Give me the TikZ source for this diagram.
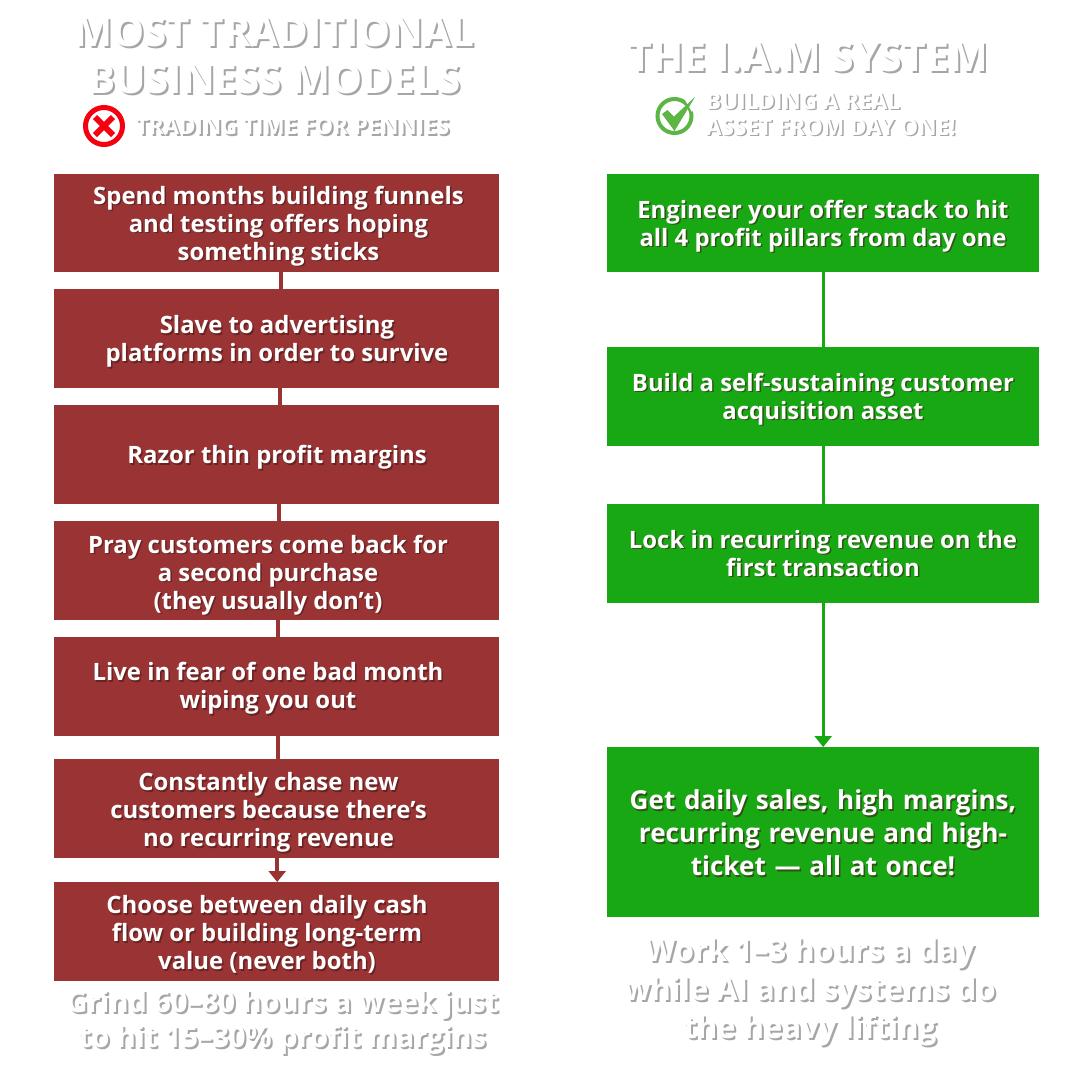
\documentclass[tikz,border=0pt]{standalone}
\usepackage{fontspec}
\setmainfont{Open Sans}[BoldFont=* Bold]
\usetikzlibrary{arrows.meta}
\definecolor{redbox}{HTML}{9A3334}
\definecolor{greenbox}{HTML}{17A814}
\definecolor{xred}{HTML}{F5000F}
\definecolor{chk}{HTML}{5CB545}
\definecolor{shade}{HTML}{A6A6A6}
\tikzset{
 x=1pt,y=-1pt,
 boxr/.style={fill=redbox,inner sep=0pt},
 boxg/.style={fill=greenbox,inner sep=0pt},
 lbl/.style={align=center,text=white,font=\bfseries\fontsize{23.9}{28}\selectfont,inner sep=0pt},
 lblsh/.style={align=center,text=black!55!redbox,font=\bfseries\fontsize{23.9}{28}\selectfont,inner sep=0pt,opacity=.6},
 head/.style={align=center,text=white,inner sep=0pt},
 headsh/.style={align=center,text=shade,inner sep=0pt},
 linkr/.style={draw=redbox,line width=4pt},
 linkg/.style={draw=greenbox,line width=3.4pt},
}
\newcommand{\flowboxat}[9]{% name style l t r b cx cy text
 \node[#2,minimum width=#5pt-#3pt,minimum height=#6pt-#4pt,anchor=north west] (#1) at (#3,#4) {};
 \node[lblsh] (#1sh) at (#7+1.5,#8+3) {#9};
 \node[lbl] (#1t) at (#7,#8+1.5) {#9};
}
\newcommand{\headtext}[5]{% name cx cy font text
 \node[headsh,font=#4] (#1sh) at (#2+2,#3+2) {#5};
 \node[head,font=#4] (#1) at (#2,#3) {#5};
}
\begin{document}
\begin{tikzpicture}
\path[use as bounding box,fill=white] (0,0) rectangle (1080,1080);

\headtext{lh}{274.5}{56}{\bfseries\fontsize{40.4}{47}\selectfont}{MOST TRADITIONAL\\BUSINESS MODELS}
\headtext{ls}{292.5}{126}{\bfseries\fontsize{22.4}{26}\selectfont}{TRADING TIME FOR PENNIES}
\headtext{rh}{808}{57}{\bfseries\fontsize{41}{48}\selectfont}{THE I.A.M SYSTEM}
\node[headsh,font=\bfseries\fontsize{22.5}{26}\selectfont,align=left,anchor=west] (rssh) at (707.5,115.5) {BUILDING A REAL\\ASSET FROM DAY ONE!};
\node[head,font=\bfseries\fontsize{22.5}{26}\selectfont,align=left,anchor=west] (rs) at (706,114) {BUILDING A REAL\\ASSET FROM DAY ONE!};

% red cross icon
\node[circle,draw=xred,line width=5pt,fill=white,minimum size=37pt,inner sep=0pt] (xicon) at (104,126) {};
\draw[xred,line width=6pt] ([xshift=-9pt,yshift=9pt]xicon.center) -- ([xshift=9pt,yshift=-9pt]xicon.center);
\draw[xred,line width=6pt] ([xshift=-9pt,yshift=-9pt]xicon.center) -- ([xshift=9pt,yshift=9pt]xicon.center);
% check icon
\node[circle,draw=chk,line width=4pt,minimum size=34pt,inner sep=0pt] (cicon) at (674.5,116) {};
\fill[white] (685,100) -- (696,93) -- (699,100) -- (692,112) -- cycle;
\fill[chk] (662,114) -- (667.5,110) -- (674,116.5) -- (695,97) -- (674.5,131) -- cycle;

% left column
\flowboxat{a1}{boxr}{54}{174}{499}{272}{278.5}{224.5}{Spend months building funnels\\and testing offers hoping\\something sticks}
\flowboxat{a2}{boxr}{54}{289}{499}{388}{277}{340}{Slave to advertising\\platforms in order to survive}
\flowboxat{a3}{boxr}{54}{405}{499}{504}{277}{456}{Razor thin profit margins}
\flowboxat{a4}{boxr}{54}{521}{499}{620}{268}{573.5}{Pray customers come back for\\a second purchase\\(they usually don’t)}
\flowboxat{a5}{boxr}{54}{637}{499}{736}{268}{687}{Live in fear of one bad month\\wiping you out}
\flowboxat{a6}{boxr}{54}{759}{499}{858}{268.5}{811}{Constantly chase new\\customers because there's\\no recurring revenue}
\flowboxat{a7}{boxr}{54}{882}{499}{981}{267}{933}{Choose between daily cash\\flow or building long-term\\value (never both)}

\draw[linkr] ([xshift=4.5pt]a1.south) -- ([xshift=4.5pt]a2.north);
\draw[linkr] ([xshift=3.5pt]a2.south) -- ([xshift=3.5pt]a3.north);
\draw[linkr] ([xshift=2.5pt]a3.south) -- ([xshift=2.5pt]a4.north);
\draw[linkr] ([xshift=1.5pt]a4.south) -- ([xshift=1.5pt]a5.north);
\draw[linkr] ([xshift=1pt]a5.south) -- ([xshift=1pt]a6.north);
\draw[linkr,-{Triangle[length=11pt,width=17pt]}] ([xshift=.5pt]a6.south) -- ([xshift=.5pt]a7.north);

% right column
\flowboxat{b1}{boxg}{607}{174}{1039}{272}{823}{224.5}{Engineer your offer stack to hit\\all 4 profit pillars from day one}
\flowboxat{b2}{boxg}{607}{347}{1039}{446}{823}{397.5}{Build a self-sustaining customer\\acquisition asset}
\flowboxat{b3}{boxg}{607}{504}{1039}{603}{823}{552}{Lock in recurring revenue on the\\first transaction}
\node[boxg,minimum width=432pt,minimum height=170pt,anchor=north west] (b4) at (607,747) {};
\node[lblsh,font=\bfseries\fontsize{26.1}{33}\selectfont,text width=400pt] (b4sh) at (824.5,834.5) {Get daily sales, high margins,\\recurring revenue and high-\\ticket — all at once!};
\node[lbl,font=\bfseries\fontsize{26.1}{33}\selectfont,text width=400pt] (b4t) at (823,833) {Get daily sales, high margins,\\recurring revenue and high-\\ticket — all at once!};

\draw[linkg] (b1) -- (b2);
\draw[linkg] (b2) -- (b3);
\draw[linkg,-{Triangle[length=11pt,width=17pt]}] (b3) -- (b4);

% bottom captions
\headtext{lc}{282.5}{1022}{\bfseries\fontsize{29}{35}\selectfont}{Grind 60–80 hours a week just\\to hit 15–30\% profit margins}
\headtext{rc}{810}{992}{\bfseries\fontsize{31}{38.5}\selectfont}{Work 1–3 hours a day\\while AI and systems do\\the heavy lifting}
\end{tikzpicture}
\end{document}
